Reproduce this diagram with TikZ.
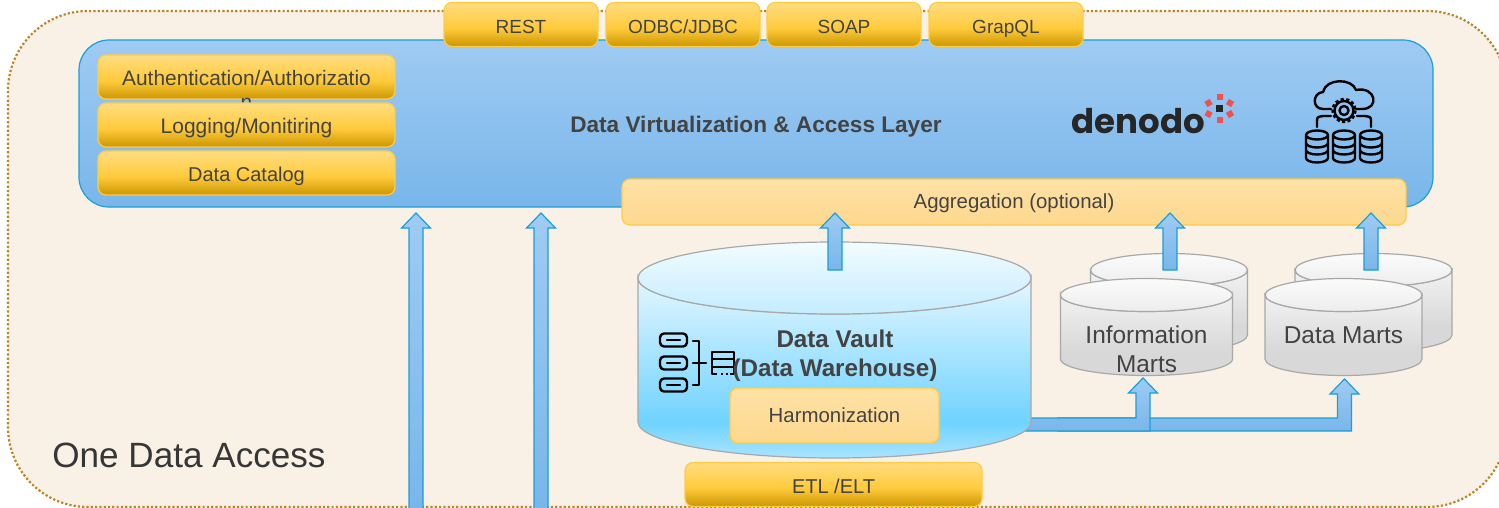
\documentclass[tikz,border=0pt]{standalone}
\usepackage{fontspec}
\setmainfont{Liberation Sans}
\newfontfamily\logofont{Poppins}
\usetikzlibrary{calc}
\definecolor{txtgray}{HTML}{434343}
\definecolor{txtdark}{HTML}{363636}
\definecolor{sandbg}{HTML}{FAF1E6}
\definecolor{sandline}{HTML}{BC8427}
\definecolor{layerline}{HTML}{1A9FD8}
\definecolor{boxline}{HTML}{FFCB45}
\definecolor{cylline}{HTML}{A8A8A8}
\definecolor{logored}{HTML}{F0504E}
\definecolor{golda}{HTML}{CC9600}
\definecolor{goldc}{HTML}{FFCB3C}
\definecolor{goldd}{HTML}{FFDC80}
\definecolor{layera}{HTML}{78B6EA}
\definecolor{layerb}{HTML}{9FCBF3}
\definecolor{palea}{HTML}{FDD88E}
\definecolor{paleb}{HTML}{FFE2A6}
\definecolor{vaulta}{HTML}{A8E4FF}
\definecolor{vaultb}{HTML}{70D3FF}
\definecolor{vaultc}{HTML}{E4F7FF}
\definecolor{vaultd}{HTML}{C4ECFF}
\definecolor{vaulte}{HTML}{F2FCFF}
\definecolor{marta}{HTML}{D8D8D8}
\definecolor{martb}{HTML}{F2F2F2}
\definecolor{martc}{HTML}{EDEDED}
\definecolor{martd}{HTML}{FBFBFB}
\pgfdeclareverticalshading{goldshade}{100bp}{color(0bp)=(golda);color(25bp)=(golda);color(46bp)=(goldc);color(75bp)=(goldd);color(100bp)=(goldd)}
\pgfdeclareverticalshading{layershade}{100bp}{color(0bp)=(layera);color(25bp)=(layera);color(75bp)=(layerb);color(100bp)=(layerb)}
\pgfdeclareverticalshading{paleshade}{100bp}{color(0bp)=(palea);color(25bp)=(palea);color(75bp)=(paleb);color(100bp)=(paleb)}
\pgfdeclareverticalshading{vaultbody}{100bp}{color(0bp)=(vaulta);color(25bp)=(vaulta);color(35bp)=(vaultb);color(75bp)=(vaultc);color(100bp)=(vaultc)}
\pgfdeclareverticalshading{vaulttop}{100bp}{color(0bp)=(vaultd);color(25bp)=(vaultd);color(75bp)=(vaulte);color(100bp)=(vaulte)}
\pgfdeclareverticalshading{martbody}{100bp}{color(0bp)=(marta);color(25bp)=(marta);color(40bp)=(marta);color(75bp)=(martb);color(100bp)=(martb)}
\pgfdeclareverticalshading{marttop}{100bp}{color(0bp)=(martc);color(25bp)=(martc);color(75bp)=(martd);color(100bp)=(martd)}
\tikzset{
  boxfont/.style={font=\fontsize{#1}{12}\selectfont},
  goldbox/.style={draw=boxline,line width=0.6pt,rounded corners=4pt,shading=goldshade,
    minimum height=22pt,inner sep=0pt,text=txtgray,boxfont=10,text height=8.7pt,text depth=0pt},
  palebox/.style={goldbox,shading=paleshade,text height=7.2pt},
  blockarrow/.style={draw=layerline,line width=0.6pt,shading=layershade,line join=miter},
  iconline/.style={draw=black,line width=1.2pt,line cap=round,line join=round},
  plaintext/.style={text=txtgray,font=\fontsize{12.2}{14.5}\selectfont,align=center},
  logosquare/.style={fill=logored,minimum size=3pt,inner sep=0pt,rotate=30},
}
% #1 centre x, #2 half width, #3 top y, #4 bottom y, #5 half height of the ends, #6 body, #7 top
\newcommand{\drum}[7]{
  \draw[draw=cylline,line width=0.6pt,shading=#6] (#1-#2,#3) -- (#1-#2,#4)
    arc[start angle=180,end angle=0,x radius=#2,y radius=#5] -- (#1+#2,#3)
    arc[start angle=0,end angle=180,x radius=#2,y radius=#5] -- cycle;
  \draw[draw=cylline,line width=0.6pt,shading=#7] (#1,#3) ellipse[x radius=#2,y radius=#5];
}
% #1 foot, #2 tip (named coordinates)
\newcommand{\blockup}[2]{
  \draw[blockarrow] ($(#1)+(-7,0)$) -- ($(#2)+(-7,15)$) -- ($(#2)+(-14.5,15)$) -- (#2)
    -- ($(#2)+(14.5,15)$) -- ($(#2)+(7,15)$) -- ($(#1)+(7,0)$) -- cycle;
}
% #1 start on the left, #2 tip
\newcommand{\blockbent}[2]{
  \coordinate (hl) at ($(#2)+(-7,15)$);
  \coordinate (hr) at ($(#2)+(7,15)$);
  \coordinate (lo) at ($(#1)+(0,13)$);
  \draw[blockarrow] (#1) -- (#1 -| hl) -- (hl) -- ($(#2)+(-14.5,15)$) -- (#2)
    -- ($(#2)+(14.5,15)$) -- (hr) -- (lo -| hr) -- (lo) -- cycle;
}
% #1 centre x
\newcommand{\dbicon}[1]{
  \draw[iconline] (#1-11,135) -- (#1-11,158) arc[start angle=180,end angle=0,x radius=11,y radius=4.5]
    -- (#1+11,135) arc[start angle=0,end angle=360,x radius=11,y radius=4.5];
  \draw[iconline] (#1-11,143) arc[start angle=180,end angle=0,x radius=11,y radius=4.5];
  \draw[iconline] (#1-11,150) arc[start angle=180,end angle=0,x radius=11,y radius=4.5];
}
\begin{document}
\begin{tikzpicture}[x=0.5pt,y=-0.5pt]
\useasboundingbox (0,0) rectangle (1499,508);
\draw[sandline,fill=sandbg,line width=1.1pt,dash pattern=on 1.1pt off 1.05pt,rounded corners=40pt] (8,11) rectangle (1507,507);

\node[draw=layerline,line width=0.6pt,rounded corners=15pt,shading=layershade,minimum width=677pt,minimum height=83.5pt,inner sep=0pt] (layer) at (756,123.5) {};
\node[text=txtgray,font=\bfseries\fontsize{11.3}{14}\selectfont] (layertitle) at (756,126.5) {Data Virtualization \& Access Layer};

\node[goldbox,boxfont=9.5,minimum width=77pt] (rest) at (521,24.5) {REST};
\node[goldbox,boxfont=9.5,minimum width=77pt] (odbc) at (683,24.5) {ODBC/JDBC};
\node[goldbox,boxfont=9.5,minimum width=77pt] (soap) at (844,24.5) {SOAP};
\node[goldbox,boxfont=9.5,minimum width=77pt] (graphql) at (1006,24.5) {GrapQL};

\node[goldbox,boxfont=10.45,minimum width=148.5pt] (auth) at (246.5,77) {Authentication/Authorizatio};
\node[text=txtgray,boxfont=10.45,inner sep=0pt] (authrest) at (246.5,104) {n};
\node[goldbox,boxfont=10.5,minimum width=148.5pt] (logging) at (246.5,125) {Logging/Monitiring};
\node[goldbox,minimum width=148.5pt] (catalog) at (246.5,173) {Data Catalog};

% logo
\node[text=black!85,font=\logofont\bfseries\fontsize{17}{20}\selectfont,inner sep=0pt] (denodo) at (1138.5,121) {denodo};
\node[fill=black!85,minimum size=3.2pt,inner sep=0pt] (logocore) at (1219.5,108.5) {};
\node[logosquare,rotate=-30] (logoa) at (1219.5,97) {};
\node[logosquare,rotate=-30] (logob) at (1219.5,120) {};
\node[logosquare] (logoc) at (1208.5,103) {};
\node[logosquare,rotate=-60] (logod) at (1230,103) {};
\node[logosquare,rotate=-60] (logoe) at (1208.5,114) {};
\node[logosquare] (logof) at (1230,114) {};

% cloud icon
\draw[iconline] (1331,109) -- (1323,109) .. controls (1312,109) and (1312,93) .. (1323,92)
  .. controls (1326,78) and (1352,78) .. (1356,90) .. controls (1376,86) and (1380,109) .. (1362,109) -- (1356,109);
\draw[iconline] (1344,110.5) circle (9.5);
\draw[iconline,dash pattern=on 1.6pt off 1.2pt,line width=1.2pt,line cap=butt] (1344,110.5) circle (11.5);
\draw[iconline] (1344,110.5) circle (4.5);
\draw[iconline] (1317,127) -- (1317,122) .. controls (1317,117) .. (1323,116) -- (1331,116);
\draw[iconline] (1371,127) -- (1371,122) .. controls (1371,117) .. (1365,116) -- (1357,116);
\dbicon{1317}
\dbicon{1344}
\dbicon{1371}

\node[palebox,boxfont=10.2,text height=6.3pt,minimum width=392pt,minimum height=23pt] (agg) at (1014,202) {Aggregation (optional)};

% outer arrows
\coordinate (feedl) at (416,510);
\coordinate (tipl) at (416,213);
\coordinate (feedr) at (541,510);
\coordinate (tipr) at (541,213);
\blockup{feedl}{tipl}
\blockup{feedr}{tipr}

% marts behind
\drum{1169}{78.5}{270}{335}{16.5}{martbody}{marttop}
\drum{1373.5}{78.5}{270}{335}{16.5}{martbody}{marttop}

% arrows to aggregation
\coordinate (vaultout) at (835,270);
\coordinate (tipvault) at (835,213);
\coordinate (infoout) at (1170,270);
\coordinate (tipinfo) at (1170,213);
\coordinate (martout) at (1371,270);
\coordinate (tipmart) at (1371,213);
\blockup{infoout}{tipinfo}
\blockup{martout}{tipmart}

% marts in front
\drum{1146.5}{86}{295}{359}{16.5}{martbody}{marttop}
\drum{1343.5}{78.5}{295}{359}{16.5}{martbody}{marttop}
\node[plaintext] (infomarts) at (1146.5,349) {Information\\Marts};
\node[plaintext] (datamarts) at (1343.5,335) {Data Marts};

% arrows out of the vault
\coordinate (martstart) at (1058,418);
\coordinate (tipdata) at (1344.5,379);
\coordinate (infostart) at (1020,418);
\coordinate (tipmarts) at (1143,378);
\blockbent{martstart}{tipdata}
\blockbent{infostart}{tipmarts}

% vault
\drum{834.5}{196.5}{278}{422}{36}{vaultbody}{vaulttop}
\blockup{vaultout}{tipvault}

% schema icon
\foreach \yy in {340,363,385}{
  \draw[iconline,rounded corners=2pt] (660,\yy-6.5) rectangle (687,\yy+6.5);
  \draw[iconline] (667,\yy) -- (680,\yy);
}
\draw[iconline] (693,341) -- (699,341) -- (699,385) -- (693,385);
\draw[iconline] (693,363) -- (706,363);
\draw[iconline,line cap=butt] (717,374) -- (712,374) -- (712,352) -- (734,352) -- (734,374) -- (730,374);
\draw[iconline,line cap=butt] (712,359) -- (734,359);
\draw[iconline,line cap=butt] (712,367) -- (734,367);
\draw[iconline,line cap=butt] (721,374) -- (723,374);
\draw[iconline,line cap=butt] (726,374) -- (728,374);

\node[text=txtgray,font=\bfseries\fontsize{12.1}{14.5}\selectfont,align=center] (vault) at (835,355.5) {Data Vault\\(Data Warehouse)};
\node[palebox,boxfont=10.2,minimum width=104.5pt,minimum height=27.5pt] (harm) at (834.5,415.5) {Harmonization};
\node[goldbox,minimum width=148.5pt] (etl) at (833.5,484.5) {ETL /ELT};

\node[text=txtdark,font=\fontsize{17.55}{20}\selectfont,anchor=west,inner sep=0pt] (access) at (52,455) {One Data Access};
\end{tikzpicture}
\end{document}
